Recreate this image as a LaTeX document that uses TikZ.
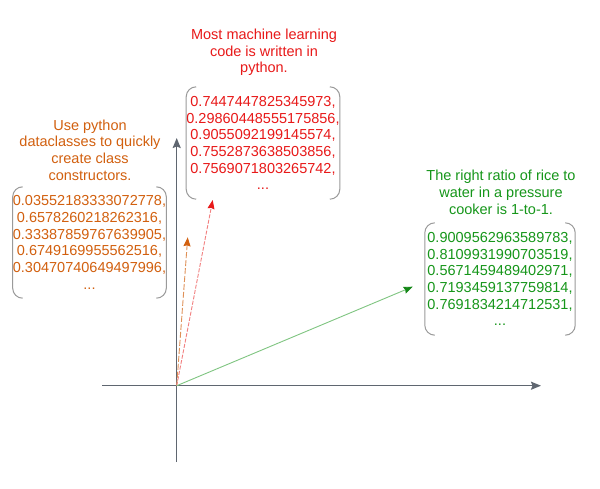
\documentclass[tikz,border=0pt]{standalone}
\usepackage{fontspec}
\setmainfont{Liberation Sans}
\usetikzlibrary{arrows.meta}
\definecolor{corange}{HTML}{D2600F}
\definecolor{cred}{HTML}{E81919}
\definecolor{cgreen}{HTML}{16961A}
\definecolor{caxis}{HTML}{5F6670}
\definecolor{cbox}{HTML}{9A9A9A}
\tikzset{
  txt/.style={align=center, inner sep=0pt, font=\fontsize{14.5}{16.7}\selectfont},
  numbox/.style={txt, minimum width=150pt, minimum height=112pt},
  brk/.style={draw=cbox, line width=1pt, rounded corners=10pt},
  axis/.style={draw=caxis, line width=1.4pt, -{Stealth[length=10pt,width=8pt,inset=1.5pt]}},
  vec/.style={line width=0.9pt}
}
\newcommand{\brackets}[1]{%
  \draw[brk] ([xshift=10pt]#1.north west) -- (#1.north west) -- (#1.south west) -- ([xshift=10pt]#1.south west);
  \draw[brk] ([xshift=-10pt]#1.north east) -- (#1.north east) -- (#1.south east) -- ([xshift=-10pt]#1.south east);}
\begin{document}
\begin{tikzpicture}[x=1pt,y=-1pt]
\useasboundingbox[fill=white] (0,0) rectangle (600,488);
% axes
\coordinate (o) at (176.7,385.7);
\coordinate (xl) at (102,385.7);
\coordinate (xr) at (541,385.7);
\coordinate (yb) at (176.7,462);
\coordinate (yt) at (176.7,138);
\draw[axis] (xl) -- (xr);
\draw[axis] (yb) -- (yt);
% vectors
\coordinate (to) at (187.7,237.3);
\coordinate (tr) at (212.7,200);
\coordinate (tg) at (412.7,286.7);
\draw[vec, draw=corange!70, dash pattern=on 6pt off 2pt, -{Stealth[length=9pt,width=7pt,inset=1pt,color=corange]}] (o) -- (to);
\draw[vec, draw=cred!55, dash pattern=on 4pt off 1.5pt, -{Stealth[length=9pt,width=7pt,inset=1pt,color=cred]}] (o) -- (tr);
\draw[vec, draw=cgreen!55, -{Stealth[length=9pt,width=7pt,inset=1pt,color=cgreen!90!black]}] (o) -- (tg);
% orange
\node[txt, text=corange] (ot) at (90,150) {Use python\\dataclasses to quickly\\create class\\constructors.};
\node[numbox, text=corange, minimum width=149pt, minimum height=111pt] (on) at (89.5,242.5)
  {0.03552183333072778,\\0.6578260218262316,\\0.33387859767639905,\\0.6749169955562516,\\0.30470740649497996,\\...};
\brackets{on}
% red
\node[txt, text=cred] (rt) at (264,52.5) {Most machine learning\\code is written in\\python.};
\node[numbox, text=cred] (rn) at (263,143)
  {0.7447447825345973,\\0.29860448555175856,\\0.9055092199145574,\\0.7552873638503856,\\0.7569071803265742,\\...};
\brackets{rn}
% green
\node[txt, text=cgreen] (gt) at (501,192.5) {The right ratio of rice to\\water in a pressure\\cooker is 1-to-1.};
\node[numbox, text=cgreen] (gn) at (500,279)
  {0.9009562963589783,\\0.8109931990703519,\\0.5671459489402971,\\0.7193459137759814,\\0.7691834214712531,\\...};
\brackets{gn}
\end{tikzpicture}
\end{document}
